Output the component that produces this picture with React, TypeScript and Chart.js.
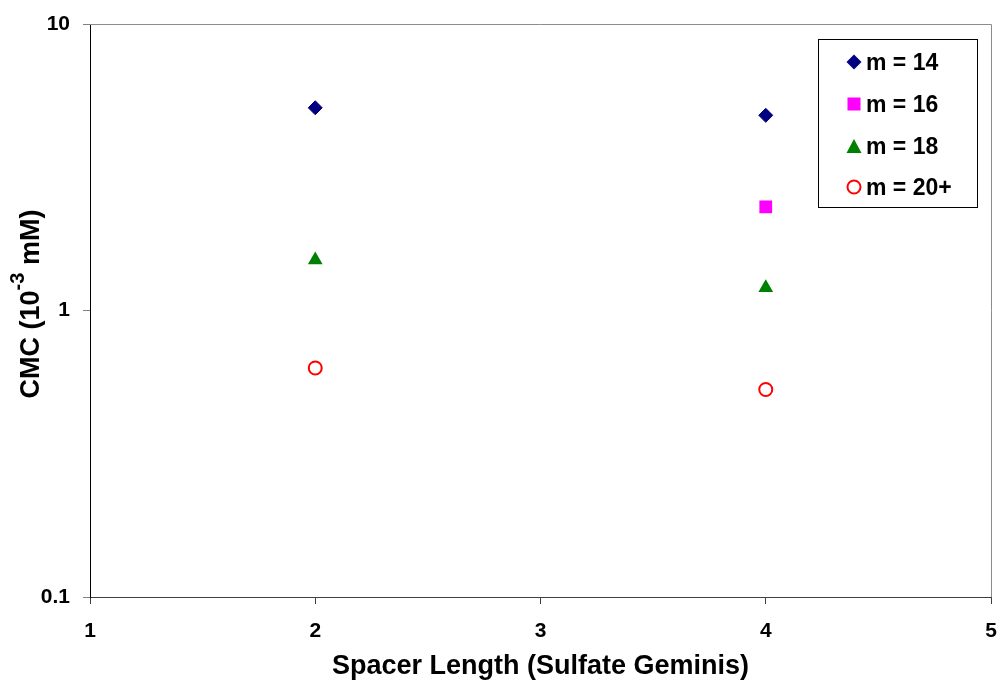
import React, { useEffect, useRef } from "react";
import { Chart, registerables } from "chart.js";

Chart.register(...registerables);

const spacerLength = [2, 4];
const m14 = [5.1, 4.8];
const m16 = [null, 2.3];
const m18 = [1.5, 1.2];
const m20 = [0.63, 0.53];
const seriesLabels = ["m = 14", "m = 16", "m = 18", "m = 20+"];
const yTickValues = [0.1, 1, 10];
const xTitle = "Spacer Length (Sulfate Geminis)";

const FONT = "'Liberation Sans', Arial, Helvetica, sans-serif";

const toPoints = (vals: (number | null)[]) =>
  spacerLength
    .map((x, i) => ({ x, y: vals[i] }))
    .filter((p) => p.y !== null) as { x: number; y: number }[];

function drawMarker(ctx: CanvasRenderingContext2D, kind: number, x: number, y: number) {
  ctx.save();
  ctx.beginPath();
  if (kind === 0) {
    const r = 7.5;
    ctx.moveTo(x, y - r);
    ctx.lineTo(x + r, y);
    ctx.lineTo(x, y + r);
    ctx.lineTo(x - r, y);
    ctx.closePath();
    ctx.fillStyle = "#000080";
    ctx.fill();
  } else if (kind === 1) {
    const h = 6.5;
    ctx.rect(x - h, y - h, 2 * h, 2 * h);
    ctx.fillStyle = "#FF00FF";
    ctx.fill();
  } else if (kind === 2) {
    ctx.moveTo(x, y - 7);
    ctx.lineTo(x + 7.5, y + 7);
    ctx.lineTo(x - 7.5, y + 7);
    ctx.closePath();
    ctx.fillStyle = "#008000";
    ctx.fill();
  } else {
    ctx.arc(x, y, 6.5, 0, Math.PI * 2);
    ctx.fillStyle = "#FFFFFF";
    ctx.fill();
    ctx.lineWidth = 2;
    ctx.strokeStyle = "#FF0000";
    ctx.stroke();
  }
  ctx.restore();
}

const decorPlugin = {
  id: "decor",
  afterDraw(chart: any) {
    const ctx: CanvasRenderingContext2D = chart.ctx;
    const a = chart.chartArea;
    ctx.save();
    // top / right frame
    ctx.strokeStyle = "#8c8c8c";
    ctx.lineWidth = 1;
    ctx.beginPath();
    ctx.moveTo(a.left, Math.round(a.top) + 0.5);
    ctx.lineTo(Math.round(a.right) + 0.5, Math.round(a.top) + 0.5);
    ctx.lineTo(Math.round(a.right) + 0.5, a.bottom);
    ctx.stroke();

    // legend box
    ctx.fillStyle = "#FFFFFF";
    ctx.fillRect(818, 39, 159, 168);
    ctx.strokeStyle = "#000000";
    ctx.strokeRect(818.5, 39.5, 159, 168);
    const rows = [62, 104, 146, 187];
    ctx.font = `bold 23px ${FONT}`;
    ctx.fillStyle = "#000000";
    ctx.textAlign = "left";
    ctx.textBaseline = "alphabetic";
    seriesLabels.forEach((lab, i) => {
      drawMarker(ctx, i, 854, rows[i]);
      ctx.fillStyle = "#000000";
      ctx.fillText(lab, 866, rows[i] + 8);
    });

    // x title
    ctx.font = `bold 27px ${FONT}`;
    ctx.textAlign = "center";
    ctx.fillText(xTitle, (a.left + a.right) / 2, 674);

    // y title with superscript
    const mainFont = `bold 27px ${FONT}`;
    const supFont = `bold 20px ${FONT}`;
    const p1 = "CMC (10";
    const p2 = "-3";
    const p3 = " mM)";
    ctx.font = mainFont;
    const w1 = ctx.measureText(p1).width;
    const w3 = ctx.measureText(p3).width;
    ctx.font = supFont;
    const w2 = ctx.measureText(p2).width;
    const W = w1 + w2 + w3;
    ctx.translate(39, 304);
    ctx.rotate(-Math.PI / 2);
    ctx.textAlign = "left";
    let cx = -W / 2;
    ctx.font = mainFont;
    ctx.fillText(p1, cx, 0);
    cx += w1;
    ctx.font = supFont;
    ctx.fillText(p2, cx, -15);
    cx += w2;
    ctx.font = mainFont;
    ctx.fillText(p3, cx, 0);
    ctx.restore();
  },
};

export default function App() {
  const ref = useRef<HTMLCanvasElement | null>(null);
  useEffect(() => {
    if (!ref.current) return;
    const tickFont = { family: FONT, size: 21, weight: "bold" as const };
    const chart = new Chart(ref.current, {
      type: "scatter",
      data: {
        datasets: [
          {
            label: seriesLabels[0],
            data: toPoints(m14),
            pointStyle: "rectRot",
            pointRadius: 7,
            backgroundColor: "#000080",
            borderColor: "#000080",
            borderWidth: 1,
          },
          {
            label: seriesLabels[1],
            data: toPoints(m16),
            pointStyle: "rect",
            pointRadius: 9,
            backgroundColor: "#FF00FF",
            borderColor: "#FF00FF",
            borderWidth: 0,
          },
          {
            label: seriesLabels[2],
            data: toPoints(m18),
            pointStyle: "triangle",
            pointRadius: 8.5,
            backgroundColor: "#008000",
            borderColor: "#008000",
            borderWidth: 0,
          },
          {
            label: seriesLabels[3],
            data: toPoints(m20),
            pointStyle: "circle",
            pointRadius: 6.5,
            backgroundColor: "#FFFFFF",
            borderColor: "#FF0000",
            borderWidth: 2,
          },
        ],
      },
      options: {
        responsive: false,
        animation: false,
        layout: { padding: { top: 24, right: 8, left: 0, bottom: 0 } },
        plugins: {
          legend: { display: false },
          tooltip: { enabled: false },
        },
        scales: {
          x: {
            type: "linear",
            min: 1,
            max: 5,
            afterFit: (s: any) => {
              s.height = 84;
              s.paddingLeft = 0;
              s.paddingRight = 0;
            },
            ticks: {
              stepSize: 1,
              color: "#000000",
              font: tickFont,
              padding: 15,
            },
            grid: {
              drawOnChartArea: false,
              drawTicks: true,
              tickLength: 7,
              color: "#404040",
            },
            border: { color: "#404040", width: 1 },
          },
          y: {
            type: "logarithmic",
            min: 0.1,
            max: 10,
            afterFit: (s: any) => {
              s.width = 90;
              s.paddingTop = 0;
              s.paddingBottom = 0;
            },
            afterBuildTicks: (s: any) => {
              s.ticks = yTickValues.map((v) => ({ value: v }));
            },
            ticks: {
              color: "#000000",
              font: tickFont,
              padding: 13,
              callback: (v: any) => String(v),
            },
            grid: {
              drawOnChartArea: false,
              drawTicks: true,
              tickLength: 7,
              color: "#808080",
            },
            border: { color: "#000000", width: 1 },
          },
        },
      },
      plugins: [decorPlugin],
    });
    return () => chart.destroy();
  }, []);
  return (
    <canvas
      ref={ref}
      width={1000}
      height={681}
      style={{ position: "absolute", left: 0, top: 0, display: "block" }}
    />
  );
}
